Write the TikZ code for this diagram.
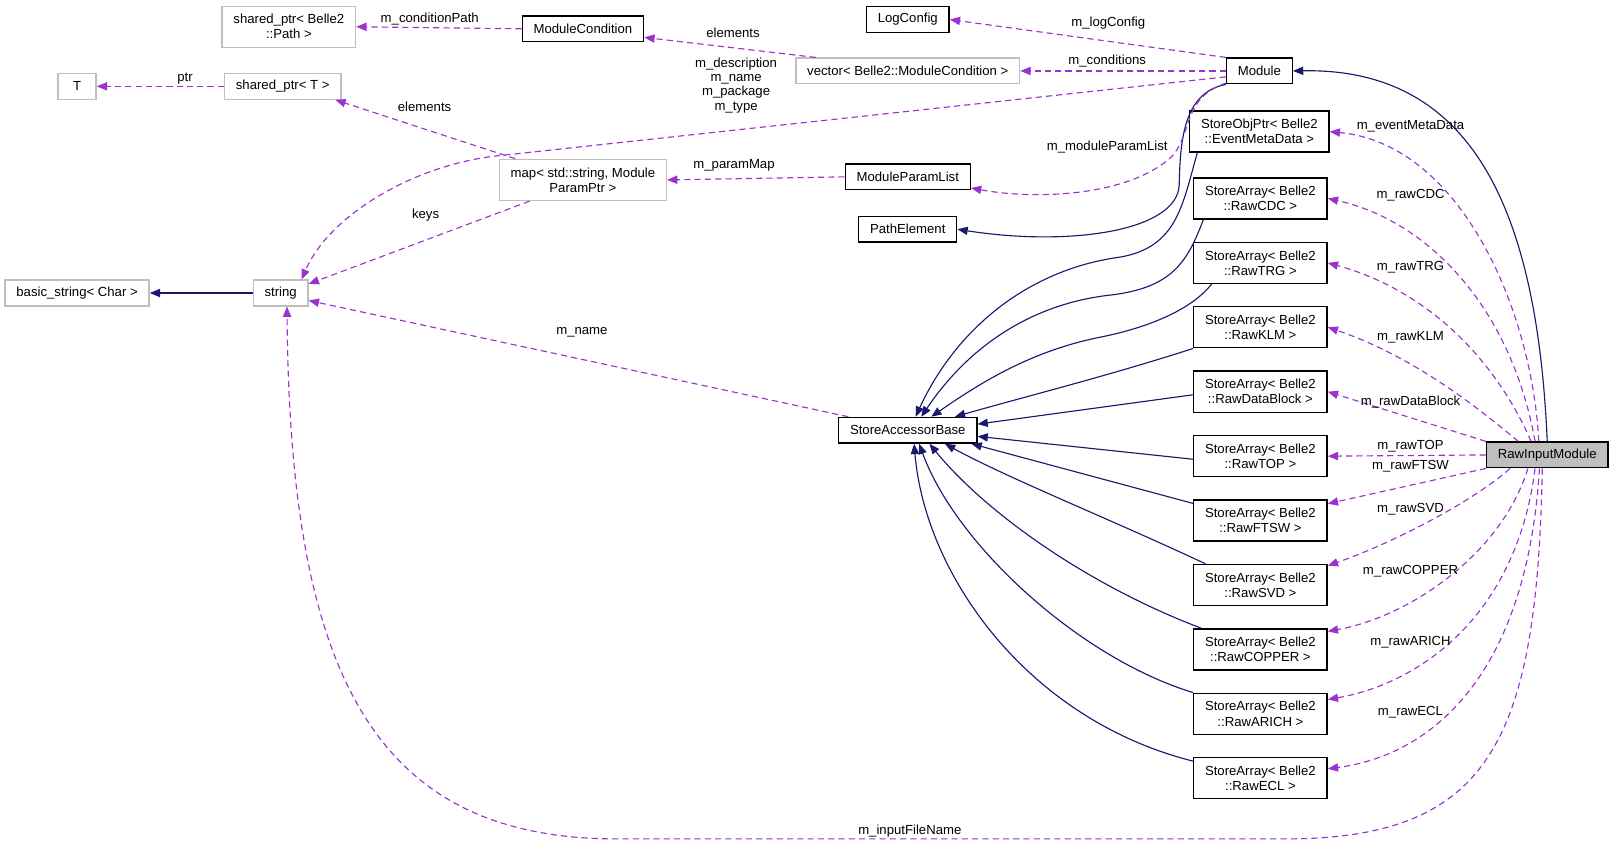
\documentclass[tikz,border=0pt]{standalone}
\usepackage{fontspec}
\setmainfont{Liberation Sans}
\usetikzlibrary{arrows.meta}
\definecolor{inhblue}{RGB}{25,25,112}
\definecolor{memviolet}{RGB}{154,50,205}
\definecolor{extgray}{RGB}{191,191,191}

\begin{document}
\begin{tikzpicture}[x=1pt, y=-1pt, line width=1.1pt,
  box/.style={draw=black, line width=1.3pt, fill=white, align=center,
    font=\fontsize{12.8}{14.6}\selectfont, inner xsep=11pt, inner ysep=2pt, minimum height=25pt},
  extbox/.style={box, draw=extgray},
  two/.style={minimum height=40pt},
  inh/.style={draw=inhblue, -{Triangle[length=10pt,width=8pt]}},
  mem/.style={draw=memviolet, dash pattern=on 6pt off 4pt, -{Triangle[length=10pt,width=8pt]}},
  lbl/.style={font=\fontsize{12.8}{14}\selectfont, inner sep=0pt, align=center}]
\useasboundingbox (0,0) rectangle (1568,823);

% 类节点
\node[extbox,two] (pathPtr) at (281,26) {shared\_ptr< Belle2\\::Path >};
\node[box] (modCond) at (567,28) {ModuleCondition};
\node[extbox,minimum width=37pt] (tNode) at (75,84) {T};
\node[extbox] (sharedT) at (275,84) {shared\_ptr< T >};
\node[box] (logCfg) at (883,19) {LogConfig};
\node[extbox] (condVec) at (883,69) {vector< Belle2::ModuleCondition >};
\node[box] (module) at (1225,69) {Module};
\node[extbox,two] (paramMap) at (567,175) {map< std::string, Module\\ParamPtr >};
\node[box] (paramList) at (883,172) {ModuleParamList};
\node[box] (pathElem) at (883,223) {PathElement};
\node[box] (accBase) at (883,418.5) {StoreAccessorBase};
\node[extbox] (strNode) at (273,285) {string};
\node[extbox] (basicStr) at (75,285) {basic\_string< Char >};
\node[box,fill=extgray] (rawInput) at (1505,442.5) {RawInputModule};

\node[box,two] (evtMeta) at (1225,128) {StoreObjPtr< Belle2\\::EventMetaData >};
\node[box,two] (rawCDC) at (1226,193) {StoreArray< Belle2\\::RawCDC >};
\node[box,two] (rawTRG) at (1226,255.7) {StoreArray< Belle2\\::RawTRG >};
\node[box,two] (rawKLM) at (1226,318.3) {StoreArray< Belle2\\::RawKLM >};
\node[box,two] (rawDataBlock) at (1226,381) {StoreArray< Belle2\\::RawDataBlock >};
\node[box,two] (rawTOP) at (1226,443.7) {StoreArray< Belle2\\::RawTOP >};
\node[box,two] (rawFTSW) at (1226,506.3) {StoreArray< Belle2\\::RawFTSW >};
\node[box,two] (rawSVD) at (1226,569) {StoreArray< Belle2\\::RawSVD >};
\node[box,two] (rawCOPPER) at (1226,631.7) {StoreArray< Belle2\\::RawCOPPER >};
\node[box,two] (rawARICH) at (1226,694.3) {StoreArray< Belle2\\::RawARICH >};
\node[box,two] (rawECL) at (1226,757) {StoreArray< Belle2\\::RawECL >};

% 继承
\draw[inh] (strNode.west) -- (basicStr.east);
\draw[inh] (rawInput.north) .. controls (1495,200) and (1430,66) .. (module.east);
\draw[inh] (module.south west) .. controls (1150,90) and (1148,140) .. (1147,180)
  .. controls (1145,225) and (1040,240) .. (pathElem.east);
\draw[inh] ([xshift=8pt]evtMeta.south west) .. controls (1150,200) and (1145,240) .. (1090,250)
  .. controls (1000,262) and (930,320) .. (accBase.60);
\draw[inh] ([xshift=10pt]rawCDC.south west) .. controls (1155,255) and (1140,280) .. (1080,287)
  .. controls (1000,296) and (940,340) .. (accBase.45);
\draw[inh] ([xshift=18pt]rawTRG.south west) .. controls (1160,300) and (1120,318) .. (1070,328)
  .. controls (1000,342) and (950,375) .. (accBase.30);
\draw[inh] (rawKLM.south west) .. controls (1080,365) and (1000,385) .. (accBase.16);
\draw[inh] ([yshift=-3pt]rawDataBlock.west) -- (accBase.5);
\draw[inh] ([yshift=-3pt]rawTOP.west) -- (accBase.355);
\draw[inh] ([yshift=-4pt]rawFTSW.north west) -- (accBase.348);
\draw[inh] ([xshift=12pt]rawSVD.north west) .. controls (1080,505) and (980,465) .. (accBase.340);
\draw[inh] ([xshift=8pt]rawCOPPER.north west) .. controls (1060,570) and (960,500) .. (accBase.328);
\draw[inh] (rawARICH.north west) .. controls (1050,640) and (930,530) .. (accBase.310);
\draw[inh] ([yshift=-4pt]rawECL.north west) .. controls (1000,700) and (900,560) .. (accBase.295);

% 成员
\draw[mem] (modCond.west) -- (pathPtr.east);
\draw[mem] ([xshift=20pt]condVec.north west) -- (modCond.352);
\draw[mem] (sharedT.west) -- (tNode.east);
\draw[mem] ([xshift=16pt]paramMap.north west) -- ([xshift=-6pt]sharedT.south east);
\draw[mem] (module.north west) -- (logCfg.east);
\draw[mem] (module.west) -- (condVec.east);
\draw[mem] (module.190) -- (480,152) .. controls (400,162) and (320,210) .. (strNode.33);
\draw[mem] (paramList.west) -- (paramMap.east);
\draw[mem] (module.200) .. controls (1150,95) and (1160,130) .. (1140,152)
  .. controls (1100,190) and (1010,195) .. (paramList.350);
\draw[mem] ([xshift=30pt]paramMap.south west) -- (strNode.18);
\draw[mem] ([xshift=10pt]accBase.north west) -- (strNode.345);
\draw[mem] (rawInput.250) .. controls (1495,720) and (1450,816) .. (1250,816) -- (600,816)
  .. controls (360,816) and (282,650) .. (strNode.295);
\draw[mem] (rawInput.122) .. controls (1490,300) and (1420,140) .. (evtMeta.east);
\draw[mem] (rawInput.132) .. controls (1470,300) and (1390,215) .. (rawCDC.east);
\draw[mem] (rawInput.140) .. controls (1450,340) and (1380,280) .. (rawTRG.east);
\draw[mem] (rawInput.155) .. controls (1430,390) and (1370,345) .. (rawKLM.east);
\draw[mem] (rawInput.north west) -- (rawDataBlock.east);
\draw[mem] (rawInput.west) -- (rawTOP.east);
\draw[mem] (rawInput.south west) -- (rawFTSW.14);
\draw[mem] (rawInput.200) .. controls (1430,490) and (1350,530) .. (rawSVD.16);
\draw[mem] (rawInput.215) .. controls (1460,540) and (1370,600) .. (rawCOPPER.15);
\draw[mem] (rawInput.228) .. controls (1475,600) and (1380,665) .. (rawARICH.12);
\draw[mem] (rawInput.240) .. controls (1485,660) and (1390,735) .. (rawECL.8);

% 标签
\node[lbl] (lCondPath) at (418,19) {m\_conditionPath};
\node[lbl] (lElemA) at (713,32) {elements};
\node[lbl] (lPtr) at (180,76) {ptr};
\node[lbl] (lElemB) at (413,104) {elements};
\node[lbl] (lDescr) at (716,83) {m\_description\\m\_name\\m\_package\\m\_type};
\node[lbl] (lParamMap) at (714,161) {m\_paramMap};
\node[lbl] (lKeys) at (414,209) {keys};
\node[lbl] (lName) at (566,323) {m\_name};
\node[lbl] (lLogCfg) at (1078,22) {m\_logConfig};
\node[lbl] (lConds) at (1077,59) {m\_conditions};
\node[lbl] (lParamList) at (1077,143) {m\_moduleParamList};
\node[lbl] (lFile) at (885,808) {m\_inputFileName};
\node[lbl] (lEvt) at (1372,123) {m\_eventMetaData};
\node[lbl] (lCDC) at (1372,190) {m\_rawCDC};
\node[lbl] (lTRG) at (1372,260) {m\_rawTRG};
\node[lbl] (lKLM) at (1372,328) {m\_rawKLM};
\node[lbl] (lDataBlock) at (1372,391) {m\_rawDataBlock};
\node[lbl] (lTOP) at (1372,434) {m\_rawTOP};
\node[lbl] (lFTSW) at (1372,453) {m\_rawFTSW};
\node[lbl] (lSVD) at (1372,495) {m\_rawSVD};
\node[lbl] (lCOPPER) at (1372,556) {m\_rawCOPPER};
\node[lbl] (lARICH) at (1372,625) {m\_rawARICH};
\node[lbl] (lECL) at (1372,693) {m\_rawECL};
\end{tikzpicture}
\end{document}
